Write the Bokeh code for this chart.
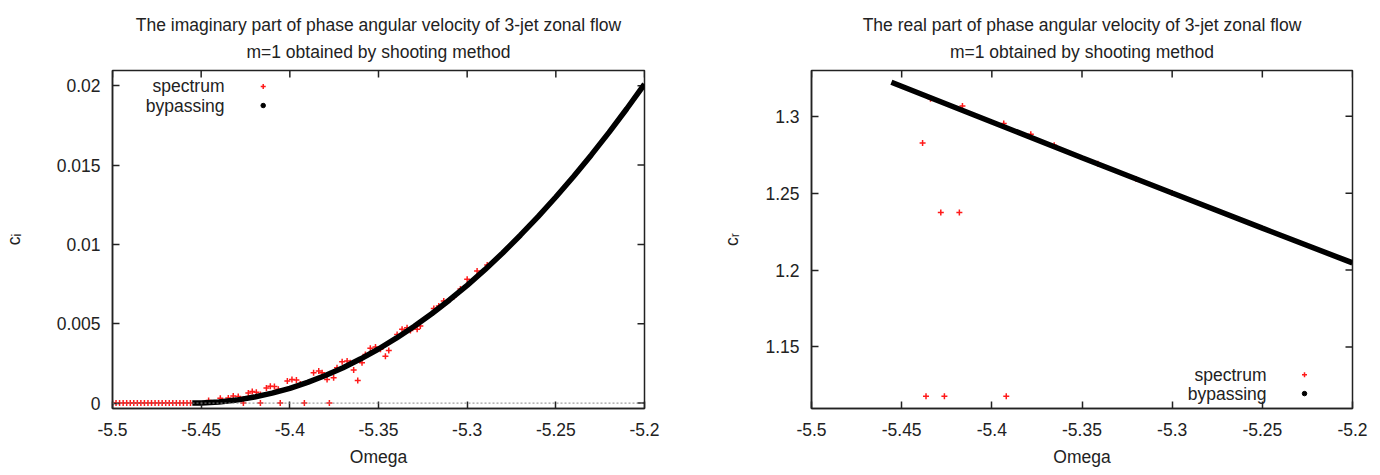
import math
from bokeh.plotting import figure
from bokeh.layouts import row
from bokeh.models import (FixedTicker, Span, Label, Title, Range1d, ColumnDataSource)
from bokeh.embed import file_html
from bokeh.resources import INLINE

# ---------------- data ----------------
x_ticks = [-5.5, -5.45, -5.4, -5.35, -5.3, -5.25, -5.2]
x_tick_labels = ["-5.5", "-5.45", "-5.4", "-5.35", "-5.3", "-5.25", "-5.2"]

ci_ticks = [0.0, 0.005, 0.01, 0.015, 0.02]
ci_tick_labels = ["0", "0.005", "0.01", "0.015", "0.02"]

cr_ticks = [1.15, 1.2, 1.25, 1.3]
cr_tick_labels = ["1.15", "1.2", "1.25", "1.3"]

series_names = ["spectrum", "bypassing"]

# imaginary part: bypassing curve
bypass_i_omega = [-5.455, -5.45, -5.44, -5.43, -5.42, -5.41, -5.40, -5.39, -5.38,
                  -5.37, -5.36, -5.35, -5.34, -5.33, -5.32, -5.31, -5.30, -5.29,
                  -5.28, -5.27, -5.26, -5.25, -5.24, -5.23, -5.22, -5.21, -5.20]
bypass_i_ci = [0.0, 0.00001, 0.00007, 0.00019, 0.00038, 0.00063, 0.00093, 0.00131,
               0.00174, 0.00223, 0.00279, 0.00341, 0.00409, 0.00483, 0.00563,
               0.0065, 0.00742, 0.00841, 0.00946, 0.01058, 0.01175, 0.01299,
               0.01428, 0.01564, 0.01706, 0.01855, 0.0201]

# imaginary part: spectrum points
spec_i_omega = [-5.500, -5.498, -5.496, -5.494, -5.492, -5.490, -5.488, -5.486,
                -5.484, -5.482, -5.480, -5.478, -5.476, -5.474, -5.472, -5.470,
                -5.468, -5.466, -5.464, -5.462, -5.460, -5.458, -5.456,
                -5.4262, -5.4166, -5.4054, -5.3918, -5.3777,
                -5.4458, -5.4392, -5.4347, -5.4319, -5.4291, -5.4262, -5.4234,
                -5.4212, -5.4189, -5.4166, -5.4132, -5.4110, -5.4087, -5.4065,
                -5.4014, -5.3988, -5.3963, -5.3941, -5.3866, -5.3837, -5.3818,
                -5.3790, -5.3753, -5.3734, -5.3705, -5.3677, -5.3659, -5.3640,
                -5.3617, -5.3593, -5.3574, -5.3546, -5.3517, -5.3489, -5.3461,
                -5.3442, -5.3395, -5.3367, -5.3339, -5.3320, -5.3282, -5.3264,
                -5.3188, -5.3160, -5.3132, -5.3076, -5.3038, -5.3000, -5.2944,
                -5.2887]
spec_i_ci = [0.0, 0.0, 0.0, 0.0, 0.0, 0.0, 0.0, 0.0, 0.0, 0.0, 0.0, 0.0, 0.0,
             0.0, 0.0, 0.0, 0.0, 0.0, 0.0, 0.0, 0.0, 0.0, 0.0,
             0.0, 0.0, 0.0, 0.0, 0.0,
             0.00017, 0.0003, 0.00032, 0.00044, 0.00041, 0.00025, 0.00063,
             0.00073, 0.00069, 0.00054, 0.00095, 0.00107, 0.00104, 0.00088,
             0.00139, 0.00149, 0.00145, 0.0012, 0.00191, 0.00202, 0.00191,
             0.00149, 0.0016, 0.00223, 0.0026, 0.00265, 0.00254, 0.00208,
             0.00143, 0.00254, 0.00307, 0.00345, 0.00353, 0.00339, 0.00296,
             0.00332, 0.00433, 0.00465, 0.00475, 0.00458, 0.00465, 0.00486,
             0.00596, 0.00612, 0.00643, 0.00668, 0.00719, 0.0078, 0.00832,
             0.0087]

# real part: bypassing curve
bypass_r_omega = [-5.4557, -5.40, -5.35, -5.30, -5.25, -5.20]
bypass_r_cr = [1.3222, 1.2963, 1.2731, 1.2501, 1.2273, 1.2047]

# real part: spectrum points
spec_r_omega = [-5.4384, -5.4283, -5.4180, -5.4365, -5.4263, -5.3920, -5.4340,
                -5.4163, -5.3934, -5.3784, -5.3654, -5.3412, -5.3200, -5.3000]
spec_r_cr = [1.2827, 1.2375, 1.2375, 1.1180, 1.1180, 1.1180, 1.3114,
             1.3067, 1.2953, 1.2884, 1.2812, 1.2691, 1.2593, 1.2501]

X_RANGE = (-5.5, -5.2)
CI_RANGE = (-0.00034, 0.02096)
CR_RANGE = (1.11, 1.3298)

FONT = "Liberation Sans"
FS = "17.5px"
TXT = "#222222"
RED = "#ff1a1a"


def make_plot(title1, title2, ylabel, yrange, yticks, ylabels, borders, ylab_standoff):
    left, right, top, bottom = borders
    p = figure(width=690, height=475, x_range=Range1d(*X_RANGE),
               y_range=Range1d(*yrange), output_backend="svg",
               toolbar_location=None, min_border_left=left,
               min_border_right=right, min_border_top=top,
               min_border_bottom=bottom)
    p.background_fill_color = "white"
    p.border_fill_color = "white"
    p.grid.visible = False
    p.outline_line_color = TXT
    p.outline_line_width = 1.5

    # two-line title, each line centred over the frame
    p.title.text = title1
    p.title.standoff = 0
    p.title.vertical_align = "bottom"
    sub = Title(text=title2)
    sub.standoff = 14
    sub.vertical_align = "top"
    for t in (p.title, sub):
        t.align = "center"
        t.text_font = FONT
        t.text_font_size = FS
        t.text_font_style = "normal"
        t.text_color = TXT
    p.add_layout(sub, "above")

    xa = p.xaxis[0]
    xa.ticker = FixedTicker(ticks=x_ticks)
    xa.major_label_overrides = {t: l for t, l in zip(x_ticks, x_tick_labels)}
    xa.axis_label = "Omega"
    xa.major_label_standoff = 14
    xa.axis_label_standoff = 8

    ya = p.yaxis[0]
    ya.ticker = FixedTicker(ticks=yticks)
    ya.major_label_overrides = {t: l for t, l in zip(yticks, ylabels)}
    ya.axis_label = ylabel
    ya.major_label_standoff = 12
    ya.axis_label_standoff = ylab_standoff

    for ax in (xa, ya):
        ax.major_tick_in = 7
        ax.major_tick_out = 0
        ax.minor_tick_in = 0
        ax.minor_tick_out = 0
        ax.axis_line_color = TXT
        ax.axis_line_width = 1.5
        ax.major_tick_line_color = TXT
        ax.major_tick_line_width = 1.5
        ax.major_label_text_font = FONT
        ax.major_label_text_font_size = FS
        ax.major_label_text_color = TXT
        ax.axis_label_text_font = FONT
        ax.axis_label_text_font_size = FS
        ax.axis_label_text_font_style = "normal"
        ax.axis_label_text_color = TXT

    # mirrored inward ticks on the top and right borders
    p.ray(x=x_ticks, y=[yrange[1]] * len(x_ticks), length=7, length_units="screen",
          angle=-math.pi / 2, line_color=TXT, line_width=1.5)
    p.ray(x=[X_RANGE[1]] * len(yticks), y=yticks, length=7, length_units="screen",
          angle=math.pi, line_color=TXT, line_width=1.5)
    return p


def frac(rng, f):
    return rng[0] + f * (rng[1] - rng[0])


def add_key(p, yrange, fx_text, fx_sym, fy_rows):
    # gnuplot-style key: right-aligned text followed by the point symbol
    for name, fy in zip(series_names, fy_rows):
        p.add_layout(Label(x=frac(X_RANGE, fx_text), y=frac(yrange, fy), text=name,
                           text_align="right", text_baseline="middle",
                           text_font=FONT, text_font_size=FS, text_color=TXT))
    xs = [frac(X_RANGE, fx_sym)] * 2
    ys = [frac(yrange, fy) for fy in fy_rows]
    p.scatter(xs[:1], ys[:1], marker="cross", size=5, line_color=RED, line_width=1.5)
    p.scatter(xs[1:], ys[1:], marker="circle", size=4.5, fill_color="black",
              line_color="black")


# ---------------- left plot ----------------
p1 = make_plot("The imaginary part of phase angular velocity of 3-jet zonal flow",
               "m=1 obtained by shooting method", "c\u1d62",
               CI_RANGE, ci_ticks, ci_tick_labels, (112, 46, 70, 67), 30)
p1.add_layout(Span(location=0, dimension="width", line_color="#888888",
                   line_dash="2 2", line_width=1))
src_si = ColumnDataSource(dict(x=spec_i_omega, y=spec_i_ci))
src_bi = ColumnDataSource(dict(x=bypass_i_omega, y=bypass_i_ci))
p1.scatter("x", "y", source=src_si, marker="cross", size=6,
           line_color=RED, line_width=1.5)
p1.line("x", "y", source=src_bi, line_color="black", line_width=5.5)
add_key(p1, CI_RANGE, 0.2105, 0.2833, [0.9527, 0.8964])

# ---------------- right plot ----------------
p2 = make_plot("The real part of phase angular velocity of 3-jet zonal flow",
               "m=1 obtained by shooting method", "c\u1d63",
               CR_RANGE, cr_ticks, cr_tick_labels, (121, 28, 70, 65), 20)
src_sr = ColumnDataSource(dict(x=spec_r_omega, y=spec_r_cr))
src_br = ColumnDataSource(dict(x=bypass_r_omega, y=bypass_r_cr))
p2.scatter("x", "y", source=src_sr, marker="cross", size=6,
           line_color=RED, line_width=1.5)
p2.line("x", "y", source=src_br, line_color="black", line_width=5.5)
add_key(p2, CR_RANGE, 0.841, 0.9113, [0.100, 0.0441])

layout = row(p1, p2)
open("out.html", "w").write(file_html(layout, INLINE))
